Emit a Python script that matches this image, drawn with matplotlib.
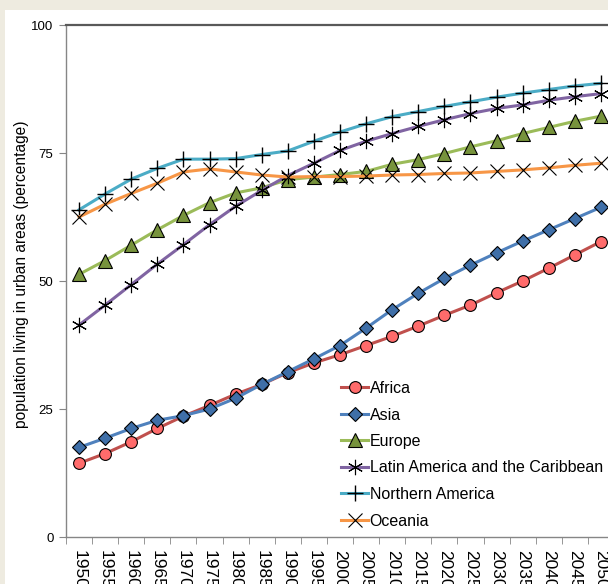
import numpy as np
import matplotlib
matplotlib.use("Agg")
import matplotlib.pyplot as plt
from matplotlib.patches import Rectangle

# ------------------------
# Data
# ------------------------

YEARS = [str(y) for y in range(1950, 2051, 5)]

AFRICA = [14.4, 16.3, 18.6, 21.2, 23.6, 25.7, 27.9, 29.8, 32.1, 34.0, 35.6,
          37.4, 39.2, 41.2, 43.3, 45.3, 47.7, 50.0, 52.5, 55.1, 57.7]
ASIA = [17.5, 19.3, 21.2, 22.8, 23.7, 25.0, 27.1, 29.8, 32.3, 34.8, 37.4,
        40.8, 44.4, 47.6, 50.5, 53.1, 55.5, 57.8, 60.0, 62.2, 64.4]
EUROPE = [51.3, 54.0, 57.0, 60.0, 62.8, 65.3, 67.2, 68.2, 69.8, 70.3, 70.8,
          71.4, 72.8, 73.7, 74.9, 76.2, 77.4, 78.8, 80.0, 81.2, 82.2]
LATIN_AMERICA = [41.4, 45.3, 49.3, 53.3, 57.1, 61.0, 64.6, 67.7, 70.6, 73.0, 75.5,
                 77.3, 78.8, 80.2, 81.5, 82.7, 83.7, 84.4, 85.3, 86.0, 86.6]
NORTHERN_AMERICA = [63.9, 67.0, 69.9, 72.0, 73.8, 73.8, 73.9, 74.7, 75.4, 77.3, 79.1,
                    80.7, 82.1, 83.1, 84.1, 85.0, 85.9, 86.7, 87.4, 88.1, 88.6]
OCEANIA = [62.5, 65.0, 67.1, 69.1, 71.3, 71.9, 71.3, 70.7, 70.3, 70.4, 70.4,
           70.5, 70.7, 70.8, 71.0, 71.1, 71.4, 71.7, 72.1, 72.6, 73.0]

SERIES_NAMES = ["Africa", "Asia", "Europe", "Latin America and the Caribbean",
                "Northern America", "Oceania"]
Y_TICKS = [0, 25, 50, 75, 100]

# ------------------------
# Styling
# ------------------------

plt.rcParams["font.family"] = ["Liberation Sans", "DejaVu Sans"]

styles = [
    dict(color="#C0504D", marker="o", ms=8.5, mfc="#FF6B6B", mec="black", mew=0.8),
    dict(color="#4F81BD", marker="D", ms=7.5, mfc="#3F6FA8", mec="black", mew=0.8),
    dict(color="#9BBB59", marker="^", ms=10, mfc="#77933C", mec="black", mew=0.8),
    dict(color="#8064A2", marker=(6, 2, 0), ms=11, mec="black", mew=0.8),
    dict(color="#4BACC6", marker="+", ms=12, mec="black", mew=1.0),
    dict(color="#F79646", marker="x", ms=10, mec="black", mew=0.8),
]

fig = plt.figure(figsize=(6.08, 5.84), dpi=100, facecolor="#EEEBE0")
fig.patches.append(Rectangle((5 / 608, 0), 1, 1 - 10 / 584, transform=fig.transFigure,
                             facecolor="white", edgecolor="none", zorder=-10))

ax = fig.add_axes([66 / 608, 1 - 537 / 584, 548 / 608, 512 / 584])
ax.set_facecolor("white")

x = np.arange(len(YEARS))
all_series = [AFRICA, ASIA, EUROPE, LATIN_AMERICA, NORTHERN_AMERICA, OCEANIA]
for name, vals, st in zip(SERIES_NAMES, all_series, styles):
    ax.plot(x, vals, lw=2.2, label=name, clip_on=False, **st)

ax.set_xlim(-0.5, len(YEARS) - 0.5)
ax.set_ylim(0, 100)
ax.set_yticks(Y_TICKS)
ax.set_yticklabels([str(v) for v in Y_TICKS], fontsize=9.5)
ax.set_xticks(x)
# the year labels run past the bottom edge, as in the original
ax.set_xticklabels(YEARS, rotation=-90, fontsize=12.5, va="top")
ax.set_xticks(np.arange(-0.5, len(YEARS)), minor=True)
ax.tick_params(axis="x", which="major", length=0, pad=9)
ax.tick_params(axis="x", which="minor", length=5, color="#868686", direction="out")
ax.tick_params(axis="y", length=5, color="#868686", direction="out", pad=4)

ax.spines["right"].set_visible(False)
ax.spines["top"].set_color("#595959")
ax.spines["top"].set_linewidth(1.6)
for s in ("left", "bottom"):
    ax.spines[s].set_color("#868686")
    ax.spines[s].set_linewidth(1.0)

ax.set_ylabel("population living in urban areas (percentage)", fontsize=11.2)
ax.yaxis.set_label_coords(-0.068, 0.514)

ax.legend(loc="upper left", bbox_to_anchor=(341 / 608, 1 - 381 / 584),
          bbox_transform=fig.transFigure, frameon=False, fontsize=11.5,
          handlelength=1.7, handletextpad=0.1, labelspacing=0.72,
          borderaxespad=0, borderpad=0)

fig.savefig("out.png", dpi=100, facecolor=fig.get_facecolor())
